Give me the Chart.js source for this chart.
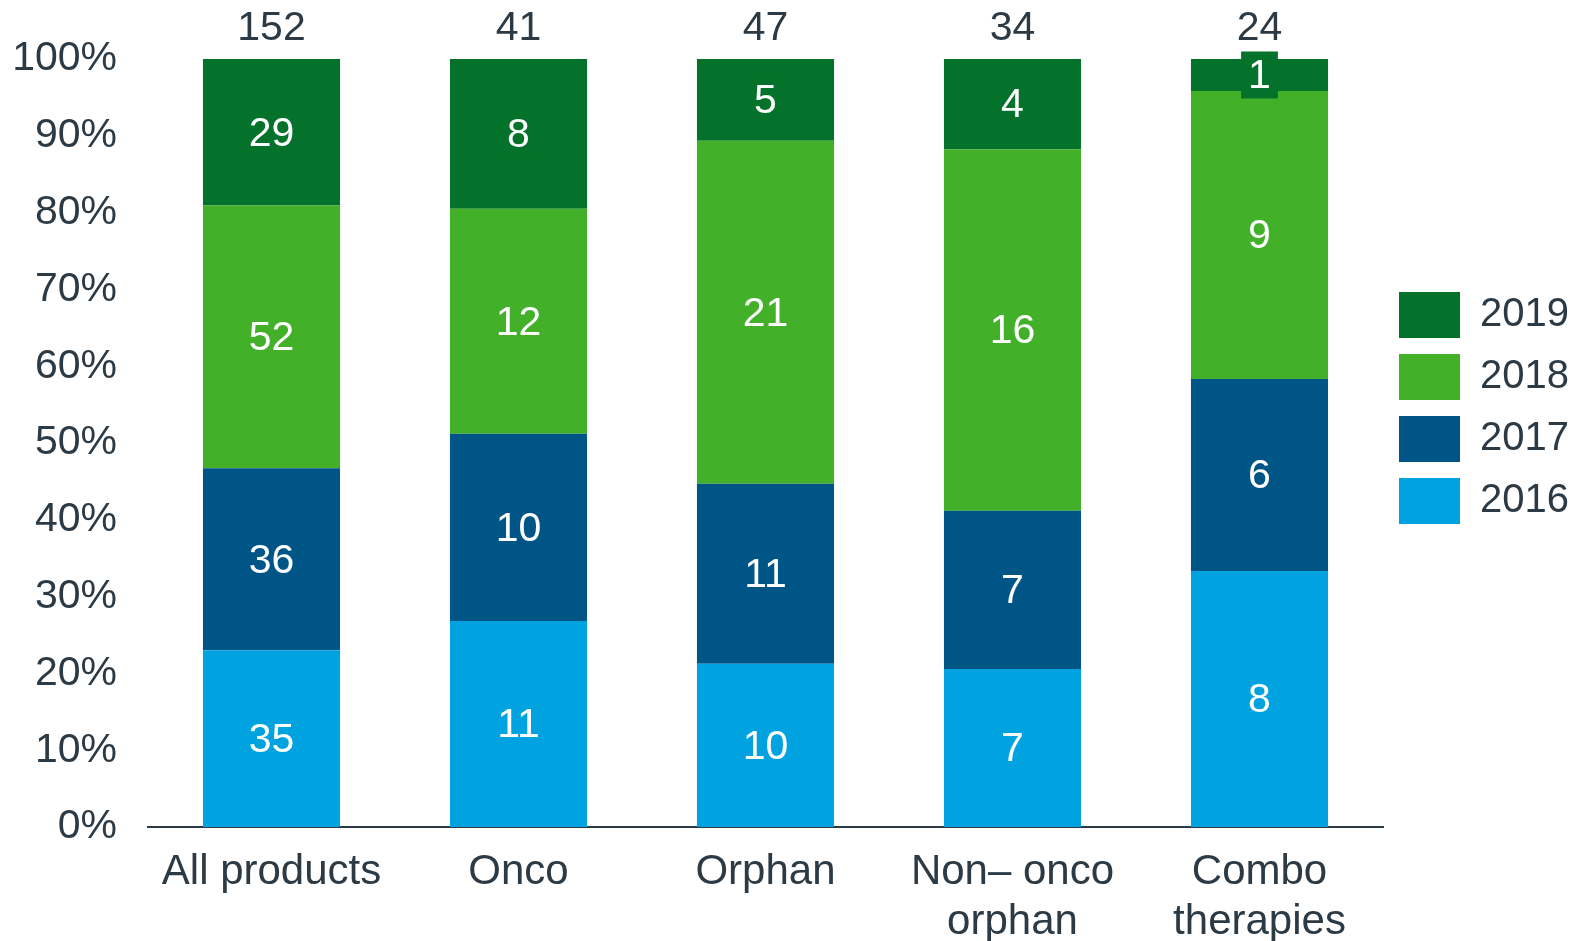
<!DOCTYPE html>
<html lang="en">
<head>
  <meta charset="utf-8">
  <title>Products by year</title>
  <script src="https://cdn.jsdelivr.net/npm/chart.js@4/dist/chart.umd.min.js"></script>
  <style>
    html, body { margin: 0; padding: 0; background: #fff; }
    #wrap { width: 1573px; height: 941px; }
  </style>
</head>
<body>
<div id="wrap"><canvas id="chart"></canvas></div>

<script type="text/javascript">
// data (counts per segment)
var categories = ['All products', 'Onco', 'Orphan', ['Non\u2013 onco', 'orphan'], ['Combo', 'therapies']];
var years      = ['2016', '2017', '2018', '2019'];
var count2016  = [35, 11, 10, 7, 8];
var count2017  = [36, 10, 11, 7, 6];
var count2018  = [52, 12, 21, 16, 9];
var count2019  = [29, 8, 5, 4, 1];
var totals     = [152, 41, 47, 34, 24];
var yTicks     = [0, 10, 20, 30, 40, 50, 60, 70, 80, 90, 100];

var colors   = ['#00A3E0', '#005587', '#43B02A', '#04722A'];
var textCol  = '#2C3A45';
var fontFam  = '"Liberation Sans", Arial, sans-serif';

var counts = [count2016, count2017, count2018, count2019];

// share of each segment in its bar
function share(arr) {
  return arr.map(function (v, i) { return v / totals[i] * 100; });
}

var datasets = years.map(function (y, k) {
  return {
    label: y,
    data: share(counts[k]),
    counts: counts[k],
    backgroundColor: colors[k],
    borderWidth: 0,
    barPercentage: 0.555,
    categoryPercentage: 1
  };
});

// numbers inside the segments and totals on top
var segLabels = {
  id: 'segLabels',
  afterDatasetsDraw: function (chart) {
    var ctx = chart.ctx;
    ctx.save();
    ctx.font = '41px ' + fontFam;
    ctx.textAlign = 'center';
    ctx.textBaseline = 'middle';
    chart.data.datasets.forEach(function (ds, di) {
      var meta = chart.getDatasetMeta(di);
      meta.data.forEach(function (bar, i) {
        var txt = String(ds.counts[i]);
        var cy = (bar.y + bar.base) / 2;
        var w = ctx.measureText(txt).width + 14;
        ctx.fillStyle = ds.backgroundColor;
        ctx.fillRect(bar.x - w / 2, cy - 23.5, w, 47);
        ctx.fillStyle = '#fff';
        ctx.fillText(txt, bar.x, cy + 2);
      });
    });
    var yTop = chart.scales.y.getPixelForValue(100);
    var xs = chart.scales.x;
    ctx.fillStyle = textCol;
    totals.forEach(function (t, i) {
      ctx.fillText(String(t), xs.getPixelForValue(i), yTop - 30);
    });
    ctx.restore();
  }
};

Chart.defaults.font.family = fontFam;
Chart.defaults.color = textCol;

new Chart(document.getElementById('chart').getContext('2d'), {
  type: 'bar',
  data: { labels: categories, datasets: datasets },
  options: {
    responsive: true,
    maintainAspectRatio: false,
    animation: false,
    layout: { padding: { top: 59, left: 14, right: 0, bottom: -26 } },
    plugins: {
      tooltip: { enabled: false },
      legend: {
        position: 'right',
        align: 'start',
        reverse: true,
        maxWidth: 190,
        title: { display: true, text: ' ', font: { size: 10 }, padding: { top: 205, bottom: 0 } },
        labels: {
          boxWidth: 61,
          boxHeight: 46,
          padding: 16,
          color: textCol,
          font: { size: 40 }
        }
      }
    },
    scales: {
      x: {
        stacked: true,
        grid: { display: false, drawTicks: false },
        border: { display: true, color: textCol, width: 2 },
        ticks: {
          color: textCol,
          font: { size: 42, lineHeight: 1.19 },
          padding: 20,
          maxRotation: 0,
          autoSkip: false
        }
      },
      y: {
        stacked: true,
        min: 0,
        max: 100,
        grid: { display: false, drawTicks: false },
        border: { display: false },
        afterBuildTicks: function (scale) {
          scale.ticks = yTicks.map(function (v) { return { value: v }; });
        },
        afterFit: function (scale) {
          scale.width = 134;
        },
        ticks: {
          color: textCol,
          font: { size: 41 },
          padding: 31,
          callback: function (v) { return v + '%'; }
        }
      }
    }
  },
  plugins: [segLabels]
});
</script>
</body>
</html>
